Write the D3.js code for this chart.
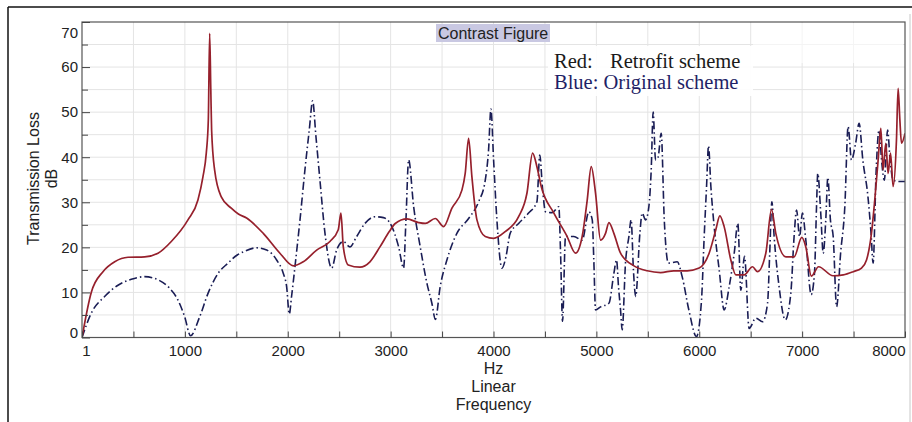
<!DOCTYPE html>
<html>
<head>
<meta charset="utf-8">
<script src="https://cdn.jsdelivr.net/npm/d3@7/dist/d3.min.js"></script>
<style>
  html, body { margin: 0; padding: 0; background: #ffffff; }
  svg { display: block; }
</style>
</head>
<body>
<svg id="chart" width="912" height="422"></svg>
<script>
// ---------------- data ----------------
const retrofitFreq = [0, 90, 204, 318, 447, 609, 739, 868, 1030, 1127, 1176, 1208, 1228, 1241, 1252, 1260, 1289, 1354, 1451, 1520, 1600, 1762, 1924, 2054, 2151, 2281, 2410, 2491, 2517, 2540, 2588, 2702, 2799, 2896, 2987, 3045, 3158, 3272, 3337, 3434, 3515, 3596, 3693, 3725, 3758, 3790, 3839, 3920, 4001, 4114, 4244, 4325, 4380, 4422, 4464, 4587, 4716, 4797, 4862, 4911, 4950, 4992, 5041, 5089, 5122, 5170, 5235, 5365, 5494, 5624, 5753, 5883, 5999, 6096, 6161, 6200, 6242, 6307, 6356, 6437, 6518, 6566, 6647, 6702, 6744, 6842, 6922, 6997, 7036, 7090, 7160, 7300, 7400, 7496, 7577, 7626, 7674, 7706, 7739, 7765, 7787, 7813, 7836, 7859, 7885, 7917, 7933, 7950, 7966, 8000];
const retrofitTL = [0, 10, 14.6, 16.8, 17.8, 17.9, 18.7, 21.3, 26.1, 30.5, 35.7, 40.9, 48.3, 67.5, 55, 46, 37.2, 31.2, 28.7, 27.4, 26.5, 23.1, 18.7, 15.9, 16.8, 19.4, 21.3, 23.9, 27.6, 20.1, 16.1, 15.6, 16.8, 20.1, 23.5, 25.3, 26.3, 25.5, 25.3, 26.4, 24.6, 28.7, 32.7, 36.4, 44.2, 35.7, 26.1, 22.4, 22.0, 23.5, 26.8, 32.0, 40.9, 37.9, 33.5, 27.6, 22.4, 18.7, 22.4, 30.5, 37.9, 32.0, 21.6, 23.1, 25.5, 23.1, 18.7, 15.9, 14.8, 14.4, 14.8, 14.8, 15.4, 18.7, 23.9, 27.0, 24.6, 17.2, 13.9, 13.9, 15.7, 14.6, 18.7, 28.4, 23.1, 17.9, 17.9, 22.2, 20.1, 13.6, 15.7, 13.7, 13.9, 14.6, 15.4, 17.2, 23.1, 30.5, 39.4, 46.4, 37.2, 43.1, 36.4, 40.9, 33.5, 43.8, 55.3, 48.3, 43.1, 45.3];

const originalFreq = [0, 90, 220, 350, 479, 609, 739, 852, 933, 998, 1055, 1144, 1225, 1322, 1419, 1509, 1568, 1697, 1795, 1892, 1957, 1989, 2015, 2037, 2070, 2119, 2167, 2209, 2242, 2274, 2313, 2362, 2427, 2475, 2540, 2604, 2670, 2750, 2848, 2930, 3012, 3078, 3126, 3149, 3175, 3224, 3288, 3353, 3401, 3435, 3482, 3547, 3644, 3758, 3855, 3920, 3952, 3975, 4001, 4033, 4082, 4121, 4162, 4244, 4341, 4422, 4450, 4475, 4506, 4570, 4635, 4652, 4671, 4700, 4781, 4862, 4927, 4960, 4975, 4992, 5041, 5122, 5170, 5196, 5215, 5235, 5251, 5283, 5316, 5338, 5360, 5382, 5423, 5445, 5478, 5510, 5533, 5552, 5575, 5600, 5630, 5660, 5700, 5786, 5834, 5899, 5973, 6022, 6048, 6071, 6090, 6113, 6145, 6194, 6242, 6291, 6340, 6375, 6404, 6440, 6485, 6550, 6615, 6664, 6685, 6706, 6728, 6776, 6836, 6890, 6922, 6946, 6975, 7003, 7036, 7088, 7120, 7140, 7152, 7181, 7205, 7230, 7250, 7275, 7302, 7335, 7374, 7415, 7447, 7480, 7520, 7554, 7590, 7640, 7670, 7690, 7720, 7747, 7775, 7799, 7831, 7855, 7885, 7950, 8000];
const originalTL = [0, 5.4, 9.1, 11.6, 12.9, 13.5, 12.8, 10.9, 8.3, 4.6, 0.4, 4.6, 9.8, 14.2, 16.5, 18.3, 19.0, 19.9, 19.4, 17.2, 14.2, 11.3, 5.2, 9.1, 15.7, 26.1, 37.2, 46.0, 52.5, 44.6, 34.9, 23.1, 15.4, 19.4, 21.3, 20.1, 22.4, 25.3, 26.8, 26.6, 24.6, 20.1, 15.4, 26.1, 39.4, 29.0, 20.1, 12.0, 7.6, 4.0, 11.3, 17.2, 23.1, 26.4, 30.1, 34.9, 41.6, 50.7, 39.4, 26.1, 15.4, 17.9, 23.1, 25.3, 27.6, 30.1, 40.5, 33.5, 27.9, 27.7, 29.0, 18.7, 3.6, 22.4, 22.4, 21.6, 27.9, 26.1, 17.2, 6.1, 6.8, 7.6, 14.2, 17.2, 11.3, 6.1, 1.7, 16.5, 22.4, 26.1, 15.0, 9.1, 23.1, 27.6, 26.1, 29.0, 37.2, 50.0, 39.4, 40.0, 45.3, 26.1, 16.5, 16.8, 13.5, 6.1, 0.2, 8.3, 22.4, 33.5, 42.5, 33.5, 24.6, 15.0, 6.1, 11.3, 18.7, 25.3, 10.5, 18.0, 2.0, 4.3, 3.5, 7.6, 18.7, 30.1, 22.4, 11.3, 3.9, 9.8, 22.4, 28.3, 22.4, 27.6, 21.6, 9.5, 14.2, 29.0, 36.4, 27.6, 18.7, 26.1, 35.5, 26.1, 22.4, 6.8, 18.7, 29.0, 46.8, 39.4, 43.1, 47.5, 39.4, 31.2, 23.1, 16.5, 37.2, 46.0, 38.6, 34.9, 46.0, 39.4, 34.9, 34.6, 34.6];

const xTickValues = [0, 1000, 2000, 3000, 4000, 5000, 6000, 7000, 8000];
const xTickLabels = ["1", "1000", "2000", "3000", "4000", "5000", "6000", "7000", "8000"];
const xMinorTicks = [500, 1500, 2500, 3500, 4500, 5500, 6500, 7500];
const yTickValues = [0, 10, 20, 30, 40, 50, 60, 70];
const yMinorTicks = [5, 15, 25, 35, 45, 55, 65];

const chartTitle = "Contrast Figure";
const legendRedKey = "Red:";
const legendRedText = "Retrofit scheme";
const legendBlueText = "Blue: Original scheme";
const yTitleLines = ["Transmission Loss", "dB"];
const xTitleLines = ["Hz", "Linear", "Frequency"];

// ---------------- layout ----------------
const W = 912, H = 422;
const plot = { left: 82, right: 905, top: 22, bottom: 337.5 };

const svg = d3.select("#chart");
const x = d3.scaleLinear().domain([0, 8000]).range([plot.left, plot.right]);
const y = d3.scaleLinear().domain([0, 70]).range([plot.bottom, plot.top]);

// outer frame
svg.append("line").attr("x1", 8).attr("x2", W).attr("y1", 7).attr("y2", 7)
  .attr("stroke", "#111").attr("stroke-width", 1.5);
svg.append("line").attr("x1", 8).attr("x2", 8).attr("y1", 7).attr("y2", H)
  .attr("stroke", "#111").attr("stroke-width", 1.5);
svg.append("line").attr("x1", 910).attr("x2", 910).attr("y1", 14).attr("y2", H)
  .attr("stroke", "#c8c8c8").attr("stroke-width", 1);

// grid
const grid = svg.append("g");
grid.selectAll(".vg").data(d3.range(500, 8000, 500)).join("line")
  .attr("x1", d => x(d)).attr("x2", d => x(d))
  .attr("y1", plot.top).attr("y2", plot.bottom)
  .attr("stroke", "#e4e4e4").attr("stroke-width", 1);
grid.selectAll(".hg").data(d3.range(5, 70, 5)).join("line")
  .attr("x1", plot.left).attr("x2", plot.right)
  .attr("y1", d => y(d)).attr("y2", d => y(d))
  .attr("stroke", "#e4e4e4").attr("stroke-width", 1);

// legend background (covers grid)
svg.append("rect").attr("x", 548).attr("y", 46).attr("width", 205).attr("height", 50)
  .attr("fill", "#ffffff").attr("opacity", 0.92);
svg.append("rect").attr("x", 753).attr("y", 23).attr("width", 150).attr("height", 40)
  .attr("fill", "#ffffff").attr("opacity", 0.6);

// lines
svg.append("clipPath").attr("id", "clipP").append("rect")
  .attr("x", plot.left).attr("y", plot.top - 2)
  .attr("width", plot.right - plot.left).attr("height", plot.bottom - plot.top + 4);

const line = d3.line().x(d => x(d[0])).y(d => y(d[1])).curve(d3.curveMonotoneX);
const origData = originalFreq.map((f, i) => [f, originalTL[i]]);
const retroData = retrofitFreq.map((f, i) => [f, retrofitTL[i]]);

const lines = svg.append("g").attr("clip-path", "url(#clipP)");
lines.append("path").datum(origData).attr("d", line)
  .attr("fill", "none").attr("stroke", "#1a1d55").attr("stroke-width", 1.6)
  .attr("stroke-dasharray", "8,3,1.5,3");
lines.append("path").datum(retroData).attr("d", line)
  .attr("fill", "none").attr("stroke", "#96202c").attr("stroke-width", 1.7);

// plot border
svg.append("rect").attr("x", plot.left).attr("y", plot.top)
  .attr("width", plot.right - plot.left).attr("height", plot.bottom - plot.top)
  .attr("fill", "none").attr("stroke", "#555").attr("stroke-width", 1.2);

// axes
const fontSans = "Arial, 'Liberation Sans', Helvetica, sans-serif";
const yAxis = svg.append("g").attr("transform", `translate(${plot.left},0)`)
  .call(d3.axisLeft(y).tickValues(yTickValues).tickSize(-8).tickPadding(4).tickFormat(d3.format("d")));
svg.append("g").attr("transform", `translate(${plot.left},0)`)
  .call(d3.axisLeft(y).tickValues(yMinorTicks).tickSize(-6).tickFormat(""));
const xAxis = svg.append("g").attr("transform", `translate(0,${plot.bottom})`)
  .call(d3.axisBottom(x).tickValues(xTickValues).tickSize(-6).tickPadding(8)
    .tickFormat((d, i) => xTickLabels[i]));
svg.append("g").attr("transform", `translate(0,${plot.bottom})`)
  .call(d3.axisBottom(x).tickValues(xMinorTicks).tickSize(-6).tickFormat(""));

svg.selectAll(".domain").remove();
svg.selectAll(".tick line").attr("stroke", "#444").attr("stroke-width", 1);
svg.selectAll(".tick text").attr("font-family", fontSans).attr("font-size", 15).attr("fill", "#222");

// nudge the end labels like the original
yAxis.selectAll(".tick text").filter(d => d === 70).attr("dy", "1.05em");
yAxis.selectAll(".tick text").filter(d => d === 0).attr("dy", "0em");
xAxis.selectAll(".tick text").filter(d => d === 8000).attr("text-anchor", "end");
xAxis.selectAll(".tick text").filter(d => d === 0).attr("dx", "4");

// axis titles
const yT = svg.append("g").attr("transform", "translate(0,178.5)");
yT.append("text").attr("transform", "translate(39,0) rotate(-90)")
  .attr("text-anchor", "middle").attr("font-family", fontSans).attr("font-size", 16)
  .attr("fill", "#222").text(yTitleLines[0]);
yT.append("text").attr("transform", "translate(57,0) rotate(-90)")
  .attr("text-anchor", "middle").attr("font-family", fontSans).attr("font-size", 16)
  .attr("fill", "#222").text(yTitleLines[1]);

const xT = svg.append("g");
xTitleLines.forEach((t, i) => {
  xT.append("text").attr("x", (plot.left + plot.right) / 2).attr("y", 374 + i * 18)
    .attr("text-anchor", "middle").attr("font-family", fontSans).attr("font-size", 16)
    .attr("fill", "#222").text(t);
});

// chart title
svg.append("rect").attr("x", 436).attr("y", 24).attr("width", 114).attr("height", 18)
  .attr("fill", "#c9c8e2");
svg.append("text").attr("x", 438).attr("y", 39).attr("font-family", fontSans)
  .attr("font-size", 16).attr("fill", "#222").text(chartTitle);

// legend text
const fontSerif = "'Times New Roman', 'Liberation Serif', serif";
svg.append("text").attr("x", 554).attr("y", 68).attr("font-family", fontSerif)
  .attr("font-size", 20.5).attr("fill", "#1a1a1a").text(legendRedKey);
svg.append("text").attr("x", 610).attr("y", 68).attr("font-family", fontSerif)
  .attr("font-size", 20.5).attr("fill", "#1a1a1a").text(legendRedText);
svg.append("text").attr("x", 554).attr("y", 89).attr("font-family", fontSerif)
  .attr("font-size", 20.5).attr("fill", "#1f1f66").text(legendBlueText);
</script>
</body>
</html>
